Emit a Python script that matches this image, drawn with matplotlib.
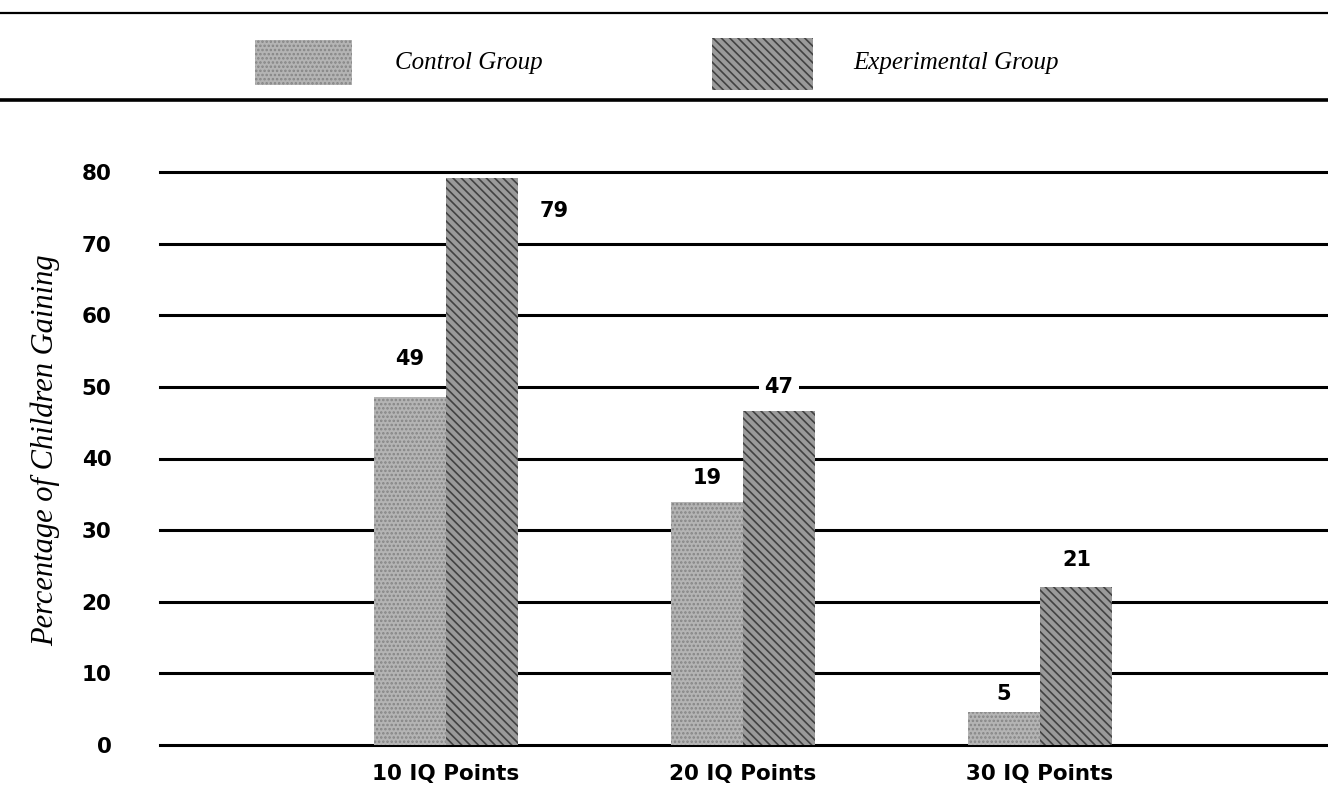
import matplotlib
matplotlib.use("Agg")
import matplotlib.pyplot as plt
import numpy as np
from matplotlib.lines import Line2D
from matplotlib.patches import Rectangle

categories = ["10 IQ Points", "20 IQ Points", "30 IQ Points"]
control_heights = [48.6, 33.9, 4.6]
experimental_heights = [79.2, 46.6, 22.1]
control_labels = ["49", "19", "5"]
experimental_labels = ["79", "47", "21"]
y_ticks = [0, 10, 20, 30, 40, 50, 60, 70, 80]

CONTROL_FACE = "#b4b4b4"
CONTROL_HATCH = "#858585"
EXP_FACE = "#9a9a9a"
EXP_HATCH = "#424242"
NUM_FONT = "DejaVu Sans"
SERIF = "Liberation Serif"

plt.rcParams["hatch.linewidth"] = 1.2

W, H = 1328, 794
fig = plt.figure(figsize=(W / 100, H / 100), dpi=100)
ax = fig.add_axes([160 / W, 1 - 745 / H, 1 - 160 / W, (745 - 172) / H])

x = np.arange(len(categories))
bw = 0.242

for t in y_ticks:
    ax.axhline(t, color="black", lw=2.2, zorder=1, clip_on=False)

ax.bar(x - bw / 2, control_heights, bw, color=CONTROL_FACE, edgecolor=CONTROL_HATCH,
       hatch="....", lw=0, zorder=3)
ax.bar(x + bw / 2, experimental_heights, bw, color=EXP_FACE, edgecolor=EXP_HATCH,
       hatch="\\\\\\\\", lw=0, zorder=3)

num_style = dict(fontsize=15, fontweight="bold", family=NUM_FONT, ha="center", zorder=5)

# control labels sit above their bars
for xi, h, lab in zip(x, control_heights, control_labels):
    gap = {0: 20, 1: 10, 2: 6}[int(xi)]
    ax.annotate(lab, (xi - bw / 2, h), xytext=(0, gap), textcoords="offset points",
                va="bottom", **num_style)

# experimental labels: first beside the bar, second on the 50 line, third above
ax.annotate(experimental_labels[0], (x[0] + bw, experimental_heights[0]), xytext=(26, -24),
            textcoords="offset points", va="center", **num_style)
ax.text(x[1] + bw / 2, 50, experimental_labels[1], va="center",
        bbox=dict(facecolor="white", edgecolor="none", pad=4), **num_style)
ax.annotate(experimental_labels[2], (x[2] + bw / 2, experimental_heights[2]), xytext=(1, 12),
            textcoords="offset points", va="bottom", **num_style)

ax.set_xlim(-(446 - 160) / 297, (1328 - 446) / 297)
ax.set_ylim(0, 80)
ax.set_yticks(y_ticks)
ax.set_yticklabels([str(t) for t in y_ticks])
ax.set_xticks(x)
ax.set_xticklabels(categories)
ax.tick_params(axis="y", length=0, pad=35)
ax.tick_params(axis="x", length=0, pad=14)
for lab in ax.get_yticklabels() + ax.get_xticklabels():
    lab.set_fontfamily(NUM_FONT)
    lab.set_fontweight("bold")
    lab.set_fontsize(15.5)
for s in ax.spines.values():
    s.set_visible(False)

fig.text(45 / W, 1 - 450 / H, "Percentage of Children Gaining", rotation=90,
         ha="center", va="center", family=SERIF, style="italic", fontsize=22)

# header rules and legend
fig.add_artist(Line2D([0, 1], [1 - 13 / H, 1 - 13 / H], color="black", lw=1.6))
fig.add_artist(Line2D([0, 1], [1 - 100 / H, 1 - 100 / H], color="black", lw=2.6))
fig.add_artist(Rectangle((255 / W, 1 - 85 / H), 97 / W, 45 / H, facecolor=CONTROL_FACE,
                         edgecolor=CONTROL_HATCH, hatch="....", lw=0))
fig.add_artist(Rectangle((712 / W, 1 - 90 / H), 101 / W, 52 / H, facecolor=EXP_FACE,
                         edgecolor=EXP_HATCH, hatch="\\\\\\\\", lw=0))
fig.text(395 / W, 1 - 63 / H, "Control Group", family=SERIF, style="italic",
         fontsize=18, va="center")
fig.text(853 / W, 1 - 63 / H, "Experimental Group", family=SERIF, style="italic",
         fontsize=18, va="center")

fig.savefig("out.png", dpi=100, facecolor="white")
